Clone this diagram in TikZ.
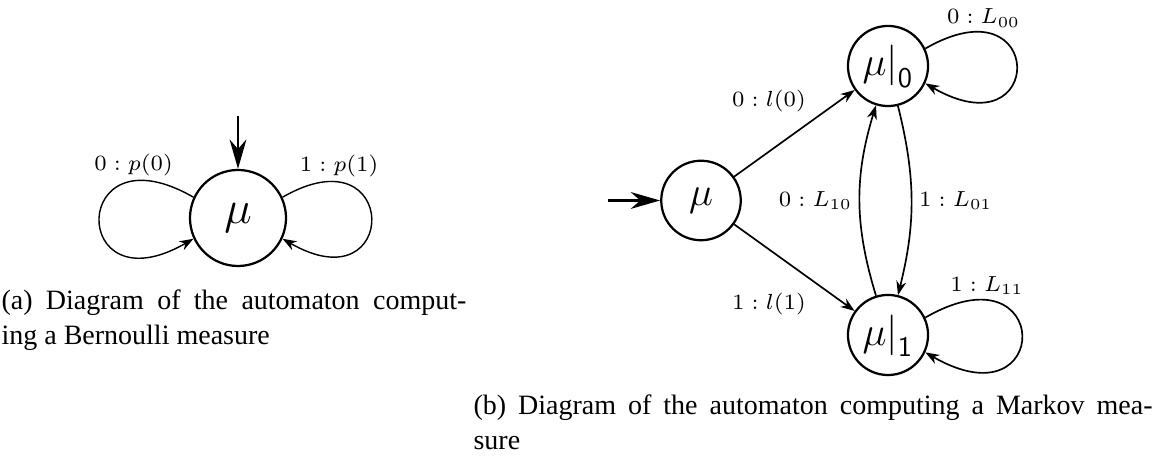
\RequirePackage{fix-cm}
\documentclass[tikz,border=0pt]{standalone}
\usepackage{fontspec}
\newfontfamily\capfont{Liberation Serif}
\usetikzlibrary{arrows.meta}
\tikzset{
  stnode/.style={circle, draw, line width=0.8pt, inner sep=0pt},
  conn/.style={line width=0.6pt, -{Stealth[length=5pt,width=3.6pt]}},
  initarr/.style={line width=0.9pt, -{Stealth[length=10.5pt,width=6pt]}},
  lab/.style={font=\fontsize{7.8}{9}\selectfont, inner sep=2.5pt},
  capt/.style={font=\capfont\fontsize{10}{12.2}\selectfont, align=justify, inner sep=0pt},
}
\begin{document}
\begin{tikzpicture}[x=0.357143pt, y=0.357143pt]
\useasboundingbox (0,0) rectangle (1170,460);
\fill[white] (0,0) rectangle (1170,460);
% (a) Bernoulli
\node[stnode, minimum size=34.3pt, font=\fontsize{16.6}{20}\selectfont] (M) at (238,242) {$\mu$};
\coordinate (Mi) at (238,344);
\draw[initarr] (Mi) -- (M);
\draw[conn, line width=0.5pt] (M.155) .. controls +(150:144) and +(210:144) .. (M.205)
  node[lab, pos=0.2, above, inner sep=1.5pt] {$0:p(0)$};
\draw[conn, line width=0.5pt] (M.25) .. controls +(30:136) and +(-30:136) .. (M.-25)
  node[lab, pos=0.2, above, inner sep=1.5pt] {$1:p(1)$};
\node[capt, text width=166pt, anchor=base west] (capa) at (1,150)
  {(a) Diagram of the automaton comput-\linebreak ing a Bernoulli measure};
% (b) Markov
\node[stnode, minimum size=28.4pt, font=\fontsize{14.5}{17}\selectfont] (A) at (701,259.5) {$\mu$};
\node[stnode, minimum size=28.6pt, font=\fontsize{14.5}{17}\selectfont] (B) at (888,394) {$\mu\Big|_{\mathsf{0}}$};
\node[stnode, minimum size=28.6pt, font=\fontsize{14.5}{17}\selectfont] (C) at (888,125) {$\mu\Big|_{\mathsf{1}}$};
\coordinate (Ai) at (608,259.5);
\draw[initarr] (Ai) -- (A);
\draw[conn] (A) -- node[lab, pos=0.66, anchor=south east] {$0:l(0)$} (B);
\draw[conn] (A) -- node[lab, pos=0.66, anchor=north east, yshift=-1.5pt] {$1:l(1)$} (C);
\draw[conn] (B) to[bend left=14] node[lab, right] {$1:L_{01}$} (C);
\draw[conn] (C) to[bend left=17] node[lab, left] {$0:L_{10}$} (B);
\draw[conn] (B.25) .. controls +(30:140) and +(-30:140) .. (B.-25)
  node[lab, pos=0.2, above, inner sep=1.5pt] {$0:L_{00}$};
\draw[conn] (C.25) .. controls +(30:148) and +(-30:148) .. (C.-25)
  node[lab, pos=0.2, above, inner sep=1.5pt] {$1:L_{11}$};
\node[capt, text width=242.5pt, anchor=base west] (capb) at (473,45)
  {(b) Diagram of the automaton computing a Markov mea-\linebreak sure};
\end{tikzpicture}
\end{document}
